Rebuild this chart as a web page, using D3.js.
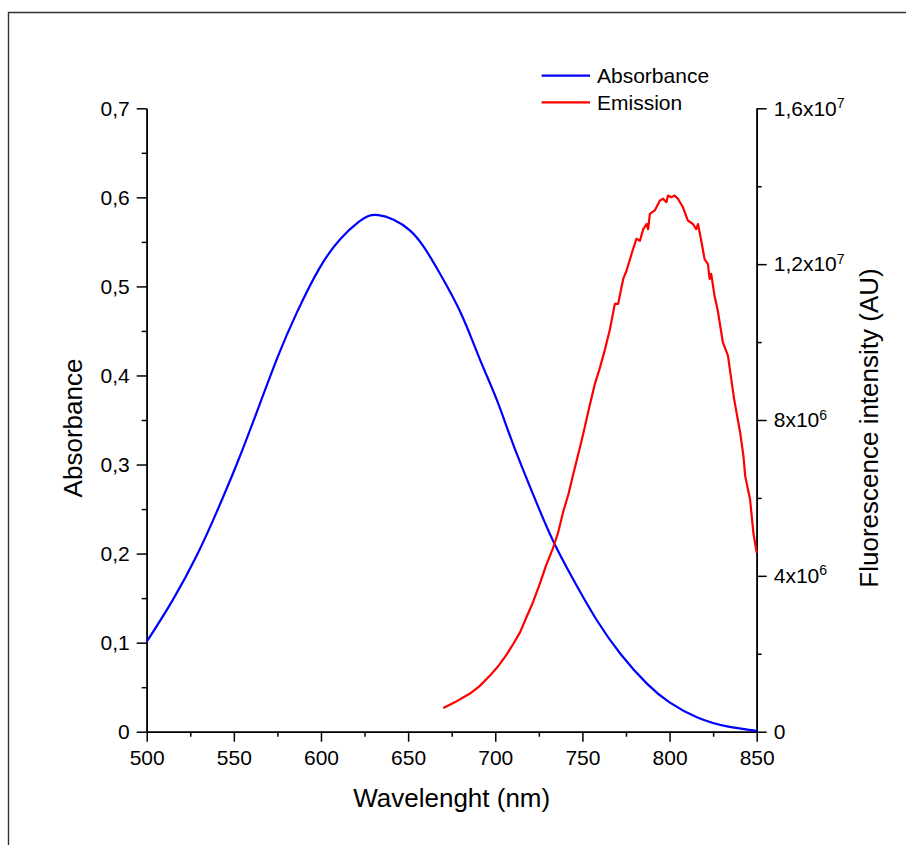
<!DOCTYPE html>
<html>
<head>
<meta charset="utf-8">
<script src="https://cdn.jsdelivr.net/npm/d3@7"></script>
<style>
  html, body { margin: 0; padding: 0; background: #fff; }
  svg { display: block; font-family: "Liberation Sans", Arial, sans-serif; }
</style>
</head>
<body>
<svg id="chart" width="906" height="845"></svg>
<script>
// ---------- data ----------
const absWavelength = [500, 515, 529, 540, 552, 563, 575, 586, 599, 611, 622, 633, 651, 666, 680, 691, 701, 710, 722, 733, 745, 758, 772, 787, 800, 816, 833, 850];
const absValue      = [0.101, 0.148, 0.199, 0.246, 0.302, 0.358, 0.420, 0.470, 0.520, 0.553, 0.573, 0.580, 0.563, 0.522, 0.471, 0.419, 0.372, 0.324, 0.265, 0.215, 0.170, 0.126, 0.087, 0.054, 0.033, 0.016, 0.006, 0.001];

const emWavelength = [670.2, 677.0, 685.5, 691.0, 697.0, 702.0, 706.5, 710.3, 714.2, 718.0, 721.0, 725.6, 729.0, 733.0, 736.0, 739.0, 742.0, 744.8, 748.6, 751.0, 754.3, 757.0, 760.1, 763.0, 765.8, 768.6, 770.5, 773.4, 775.3, 778.2, 779.1, 781.0, 783.0, 784.9, 786.8, 787.7, 788.7, 791.5, 794.4, 796.3, 798.2, 799.1, 801.0, 802.9, 804.8, 807.7, 810.5, 813.4, 815.3, 816.3, 818.2, 820.1, 822.0, 823.0, 823.9, 825.8, 827.7, 830.6, 833.5, 835.4, 837.0, 840.5, 842.4, 843.4, 846.2, 848.1, 850.0];
const emValue      = [6.1e5, 7.6e5, 9.8e5, 1.17e6, 1.44e6, 1.70e6, 1.98e6, 2.25e6, 2.55e6, 2.95e6, 3.25e6, 3.80e6, 4.25e6, 4.70e6, 5.10e6, 5.65e6, 6.10e6, 6.62e6, 7.30e6, 7.75e6, 8.40e6, 8.90e6, 9.35e6, 9.82e6, 1.033e7, 1.098e7, 1.098e7, 1.162e7, 1.183e7, 1.226e7, 1.239e7, 1.265e7, 1.26e7, 1.29e7, 1.303e7, 1.29e7, 1.329e7, 1.338e7, 1.363e7, 1.368e7, 1.359e7, 1.376e7, 1.372e7, 1.376e7, 1.368e7, 1.346e7, 1.312e7, 1.303e7, 1.29e7, 1.303e7, 1.26e7, 1.213e7, 1.2e7, 1.162e7, 1.175e7, 1.119e7, 1.08e7, 9.99e6, 9.65e6, 9.05e6, 8.55e6, 7.68e6, 7.07e6, 6.56e6, 5.96e6, 5.10e6, 4.59e6];

const xTicks = [500, 550, 600, 650, 700, 750, 800, 850];
const xTickLabels = ["500", "550", "600", "650", "700", "750", "800", "850"];
const leftTicks = [0, 0.1, 0.2, 0.3, 0.4, 0.5, 0.6, 0.7];
const leftTickLabels = ["0", "0,1", "0,2", "0,3", "0,4", "0,5", "0,6", "0,7"];
const rightTicks = [0, 4e6, 8e6, 1.2e7, 1.6e7];
const rightTickBase = ["0", "4x10", "8x10", "1,2x10", "1,6x10"];
const rightTickExp = ["", "6", "6", "7", "7"];

const seriesNames = ["Absorbance", "Emission"];
const seriesColors = ["#0000ff", "#ff0000"];

// ---------- layout ----------
const svg = d3.select("#chart");
const X0 = 146.7, X1 = 756.7, Y0 = 731.7, Y1 = 108.3;

const x = d3.scaleLinear().domain([500, 850]).range([X0, X1]);
const yL = d3.scaleLinear().domain([0, 0.7]).range([Y0, Y1]);
const yR = d3.scaleLinear().domain([0, 1.6e7]).range([Y0, Y1]);

// outer frame (partial, as in reference)
svg.append("path")
  .attr("d", `M8.5,845 L8.5,12.5 L906,12.5`)
  .attr("fill", "none").attr("stroke", "#333").attr("stroke-width", 1.4);

const axisStyle = g => {
  g.selectAll(".domain").attr("stroke", "#000").attr("stroke-width", 1.6);
  g.selectAll(".tick line").attr("stroke", "#000").attr("stroke-width", 1.5);
};

// minor ticks
const xMinor = d3.range(525, 850, 50);
const lMinor = d3.range(0.05, 0.7, 0.1);
const rMinor = d3.range(2e6, 1.6e7, 4e6);

svg.append("g").attr("transform", `translate(0,${Y0})`)
  .call(d3.axisBottom(x).tickValues(xMinor).tickSize(5).tickFormat("").tickSizeOuter(0))
  .call(axisStyle);
svg.append("g").attr("transform", `translate(${X0},0)`)
  .call(d3.axisLeft(yL).tickValues(lMinor).tickSize(5).tickFormat("").tickSizeOuter(0))
  .call(axisStyle);
svg.append("g").attr("transform", `translate(${X1},0)`)
  .call(d3.axisRight(yR).tickValues(rMinor).tickSize(5).tickFormat("").tickSizeOuter(0))
  .call(axisStyle);

// major axes
const xAxis = svg.append("g").attr("transform", `translate(0,${Y0})`)
  .call(d3.axisBottom(x).tickValues(xTicks).tickSize(10).tickSizeOuter(0).tickPadding(8)
    .tickFormat((d, i) => xTickLabels[i]))
  .call(axisStyle);
xAxis.selectAll("text").attr("font-size", 21).attr("fill", "#000")
  .attr("font-family", "Liberation Sans, Arial, sans-serif");

const lAxis = svg.append("g").attr("transform", `translate(${X0},0)`)
  .call(d3.axisLeft(yL).tickValues(leftTicks).tickSize(10).tickSizeOuter(0).tickPadding(7)
    .tickFormat((d, i) => leftTickLabels[i]))
  .call(axisStyle);
lAxis.selectAll("text").attr("font-size", 21).attr("fill", "#000")
  .attr("font-family", "Liberation Sans, Arial, sans-serif");

const rAxis = svg.append("g").attr("transform", `translate(${X1},0)`)
  .call(d3.axisRight(yR).tickValues(rightTicks).tickSize(10).tickSizeOuter(0).tickPadding(7)
    .tickFormat(""))
  .call(axisStyle);
rAxis.selectAll(".tick").each(function(d, i) {
  const t = d3.select(this).append("text")
    .attr("x", 17).attr("dy", "0.32em")
    .attr("fill", "#000").attr("font-size", 21)
    .attr("font-family", "Liberation Sans, Arial, sans-serif");
  t.append("tspan").text(rightTickBase[i]);
  if (rightTickExp[i]) {
    t.append("tspan").attr("font-size", 14).attr("dy", "-0.55em").text(rightTickExp[i]);
  }
});

// axis titles
svg.append("text").attr("x", (X0 + X1) / 2).attr("y", 807)
  .attr("text-anchor", "middle").attr("font-size", 26).attr("fill", "#000")
  .text("Wavelenght (nm)");
svg.append("text")
  .attr("transform", `translate(82,${(Y0 + Y1) / 2 + 8}) rotate(-90)`)
  .attr("text-anchor", "middle").attr("font-size", 26).attr("fill", "#000")
  .text("Absorbance");
svg.append("text")
  .attr("transform", `translate(878,${(Y0 + Y1) / 2 + 8}) rotate(-90)`)
  .attr("text-anchor", "middle").attr("font-size", 26).attr("fill", "#000")
  .text("Fluorescence intensity (AU)");

// curves
const absData = absWavelength.map((w, i) => ({ w, v: absValue[i] }));
const emData = emWavelength.map((w, i) => ({ w, v: emValue[i] }));

svg.append("path").datum(absData)
  .attr("fill", "none").attr("stroke", seriesColors[0]).attr("stroke-width", 2.2)
  .attr("d", d3.line().x(d => x(d.w)).y(d => yL(d.v)).curve(d3.curveNatural));

svg.append("path").datum(emData)
  .attr("fill", "none").attr("stroke", seriesColors[1]).attr("stroke-width", 2.2)
  .attr("stroke-linejoin", "round")
  .attr("d", d3.line().x(d => x(d.w)).y(d => yR(d.v)));

// legend
const legend = svg.append("g");
seriesNames.forEach((name, i) => {
  const yy = 75.7 + i * 26.6;
  legend.append("line").attr("x1", 541.7).attr("x2", 590).attr("y1", yy).attr("y2", yy)
    .attr("stroke", seriesColors[i]).attr("stroke-width", 2.2);
  legend.append("text").attr("x", 597).attr("y", yy).attr("dy", "0.35em")
    .attr("font-size", 21).attr("fill", "#000").text(name);
});
</script>
</body>
</html>
